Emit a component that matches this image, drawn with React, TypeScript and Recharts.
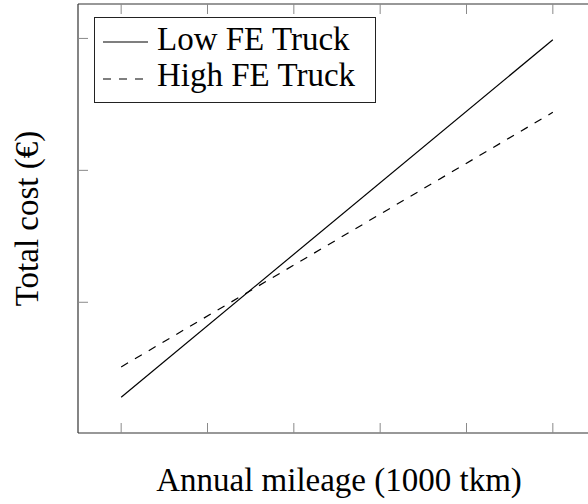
import React from 'react';
import { LineChart, Line, XAxis, YAxis, Legend } from 'recharts';

// values (cost in €, mileage in 1000 tkm)
const mileage = [20, 120];
const lowFeCost = [12800, 39900];
const highFeCost = [15100, 34400];
const mileageTicks = [20, 40, 60, 80, 100, 120];
const costTicks = [20000, 30000, 40000];
const seriesNames = ['Low FE Truck', 'High FE Truck'];

const data = mileage.map((m, i) => ({ mileage: m, low: lowFeCost[i], high: highFeCost[i] }));

const FONT = "'Liberation Serif', 'DejaVu Serif', serif";
const FRAME = '#333';
const TICK = '#8a8a8a';
const textStyle = { fontFamily: FONT, fontSize: 33 };

const NoTick = () => null;

const XLabel = (props: any) => {
  const { x, y, width } = props.viewBox;
  return (
    <text x={x + width / 2 + 2} y={y + 58} textAnchor="middle" fontFamily={FONT} style={textStyle} fill="#000">
      Annual mileage (1000 tkm)
    </text>
  );
};

const YLabel = (props: any) => {
  const { x, y, width, height } = props.viewBox;
  const cx = x + width - 40;
  const cy = y + height / 2;
  return (
    <text x={cx} y={cy} transform={`rotate(-90, ${cx}, ${cy})`} textAnchor="middle" fontFamily={FONT} style={textStyle} fill="#000">
      Total cost (€)
    </text>
  );
};

const LegendBox = (props: any) => {
  const items = [...(props.payload || [])].sort(
    (a: any, b: any) => seriesNames.indexOf(a.value) - seriesNames.indexOf(b.value)
  );
  return (
    <svg width={282} height={86} style={{ display: 'block' }}>
      <rect x={0.5} y={0.5} width={281} height={85} fill="#fff" stroke="#222" strokeWidth={1} />
      {items.map((item: any, i: number) => (
        <g key={item.value}>
          <line
            x1={9}
            x2={54}
            y1={25 + i * 37}
            y2={25 + i * 37}
            stroke="#000"
            strokeWidth={1.2}
            strokeDasharray={item.payload?.strokeDasharray}
          />
          <text x={63} y={33 + i * 36} fontFamily={FONT} style={textStyle} fill="#000">
            {item.value}
          </text>
        </g>
      ))}
    </svg>
  );
};

export default function App() {
  return (
    <div style={{ position: 'absolute', left: 0, top: 0, width: 588, height: 504, overflow: 'hidden', background: '#fff', fontFamily: FONT }}>
      <LineChart width={610} height={504} data={data} margin={{ top: 0, right: 0, bottom: 0, left: 0 }}>
        <XAxis
          dataKey="mileage"
          type="number"
          domain={[10, 130]}
          ticks={mileageTicks}
          interval={0}
          height={71}
          tickSize={-10}
          tick={<NoTick />}
          stroke={FRAME}
          axisLine={{ stroke: FRAME, strokeWidth: 1.2 }}
          tickLine={{ stroke: TICK }}
          label={<XLabel />}
        />
        <XAxis
          xAxisId="top"
          orientation="top"
          dataKey="mileage"
          type="number"
          domain={[10, 130]}
          ticks={mileageTicks}
          interval={0}
          height={4}
          tickSize={-10}
          tick={<NoTick />}
          stroke={FRAME}
          axisLine={{ stroke: FRAME, strokeWidth: 1.2 }}
          tickLine={{ stroke: TICK }}
        />
        <YAxis
          type="number"
          domain={[10090, 42610]}
          ticks={costTicks}
          interval={0}
          width={78}
          tickSize={-10}
          tick={<NoTick />}
          stroke={FRAME}
          axisLine={{ stroke: FRAME, strokeWidth: 1.2 }}
          tickLine={{ stroke: TICK }}
          label={<YLabel />}
        />
        <YAxis
          yAxisId="right"
          orientation="right"
          type="number"
          domain={[10090, 42610]}
          ticks={costTicks}
          interval={0}
          width={14}
          tickSize={-10}
          tick={<NoTick />}
          stroke={FRAME}
          axisLine={false}
          tickLine={{ stroke: TICK }}
        />
        <Legend
          layout="vertical"
          verticalAlign="middle"
          align="center"
          content={<LegendBox />}
          wrapperStyle={{ left: 94, top: 17, width: 282, height: 86 }}
        />
        <Line
          type="linear"
          dataKey="low"
          name={seriesNames[0]}
          stroke="#000"
          strokeWidth={1.2}
          dot={false}
          isAnimationActive={false}
        />
        <Line
          type="linear"
          dataKey="high"
          name={seriesNames[1]}
          stroke="#000"
          strokeWidth={1.2}
          strokeDasharray="8 8"
          dot={false}
          isAnimationActive={false}
        />
      </LineChart>
    </div>
  );
}
